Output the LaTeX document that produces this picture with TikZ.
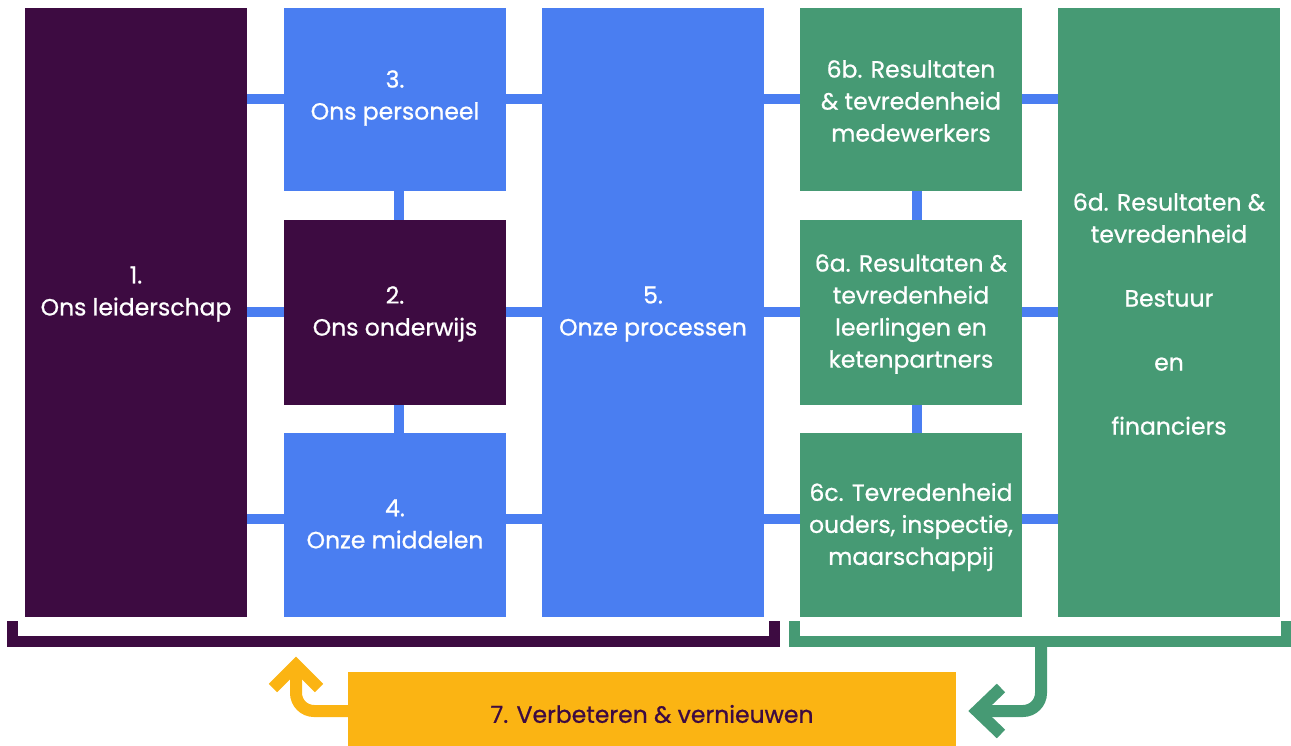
\documentclass[tikz,border=0pt]{standalone}
\usepackage{fontspec}
\setmainfont{Poppins}[FakeBold=0.8]
\newfontfamily\medfont{Poppins}[FakeBold=0.8]
\definecolor{cPurple}{HTML}{3D0B41}
\definecolor{cBlue}{HTML}{4A7EF1}
\definecolor{cGreen}{HTML}{469A74}
\definecolor{cYellow}{HTML}{FBB413}
\begin{document}
\begin{tikzpicture}[x=1pt,y=-1pt,
  box/.style={draw=none,minimum width=222pt,inner sep=0pt,anchor=north west},
  lbl/.style={text=white,align=center,font=\medfont\fontsize{23.5}{32}\selectfont,inner sep=0pt},
  link/.style={draw=cBlue,line width=10pt},
  brk/.style={line width=11pt,miter limit=10},
  curvearrow/.style={line width=12pt,rounded corners=18pt},
  arrowhead/.style={line width=12pt,miter limit=10}]
\useasboundingbox (0,0) rectangle (1291,746);
% boxes
\node[box,fill=cPurple,minimum height=609pt] (b1) at (25,8) {};
\node[box,fill=cBlue,minimum height=183pt] (b3) at (284,8) {};
\node[box,fill=cPurple,minimum height=185pt] (b2) at (284,220) {};
\node[box,fill=cBlue,minimum height=184pt] (b4) at (284,433) {};
\node[box,fill=cBlue,minimum height=609pt] (b5) at (542,8) {};
\node[box,fill=cGreen,minimum height=183pt] (b6b) at (800,8) {};
\node[box,fill=cGreen,minimum height=185pt] (b6a) at (800,220) {};
\node[box,fill=cGreen,minimum height=184pt] (b6c) at (800,433) {};
\node[box,fill=cGreen,minimum height=609pt] (b6d) at (1058,8) {};
\node[box,fill=cYellow,minimum width=608pt,minimum height=74pt] (b7) at (348,672) {};
% connectors
\foreach \y in {99,312,519}{
  \draw[link] (b1.east |- 0,\y) -- (b3.west |- 0,\y);
  \draw[link] (b3.east |- 0,\y) -- (b5.west |- 0,\y);
  \draw[link] (b5.east |- 0,\y) -- (b6b.west |- 0,\y);
  \draw[link] (b6b.east |- 0,\y) -- (b6d.west |- 0,\y);
}
\draw[link] ([xshift=4pt]b3.south) -- ([xshift=4pt]b2.north);
\draw[link] ([xshift=4pt]b2.south) -- ([xshift=4pt]b4.north);
\draw[link] ([xshift=6pt]b6b.south) -- ([xshift=6pt]b6a.north);
\draw[link] ([xshift=6pt]b6a.south) -- ([xshift=6pt]b6c.north);
% labels
\node[lbl] (t1) at (136,294) {1.\\Ons leiderschap};
\node[lbl] (t3) at (395,98) {3.\\Ons personeel};
\node[lbl] (t2) at (395,314) {2.\\Ons onderwijs};
\node[lbl] (t4) at (395,524) {4.\\Onze middelen};
\node[lbl] (t5) at (653,314) {5.\\Onze processen};
\node[lbl] (t6b) at (911,101) {6b. Resultaten\\\& tevredenheid\\medewerkers};
\node[lbl] (t6a) at (911,314) {6a. Resultaten \&\\tevredenheid\\leerlingen en\\ketenpartners};
\node[lbl] (t6c) at (911,527) {6c. Tevredenheid\\ouders, inspectie,\\maarschappij};
\node[lbl] (t6d) at (1169,314) {6d. Resultaten \&\\tevredenheid\\[32pt]Bestuur\\[32pt]en\\[32pt]financiers};
\node[lbl,text=cPurple] (t7) at (652,714) {7. Verbeteren \& vernieuwen};
% brackets
\coordinate (pl) at (12,621);
\coordinate (pr) at (774,621);
\coordinate (gl) at (794.5,621);
\coordinate (gr) at (1286,621);
\draw[brk,draw=cPurple] (pl) -- (12,641.5) -- (774,641.5) -- (pr);
\draw[brk,draw=cGreen] (gl) -- (794.5,641.5) -- (1286,641.5) -- (gr);
% green return arrow
\coordinate (gs) at (1041,641.5);
\coordinate (gt) at (977,711);
\draw[curvearrow,draw=cGreen] (gs) -- (1041,711) -- (gt);
\draw[arrowhead,draw=cGreen] (1001,688) -- (977,711) -- (1001,734);
% yellow arrow
\coordinate (ys) at (b7.west |- 0,711);
\coordinate (yt) at (296,665);
\draw[curvearrow,draw=cYellow] (ys) -- (296,711) -- (yt);
\draw[arrowhead,draw=cYellow] (273,688) -- (296,665) -- (319,688);
\end{tikzpicture}
\end{document}
